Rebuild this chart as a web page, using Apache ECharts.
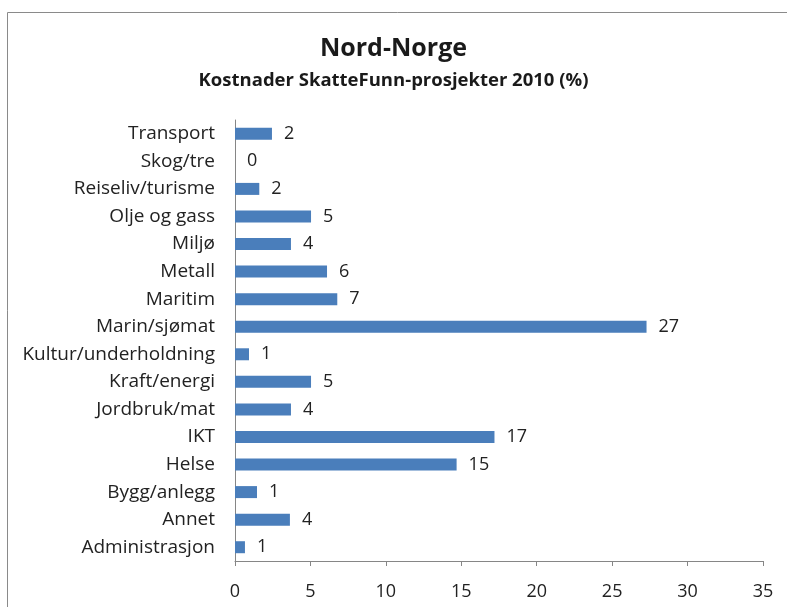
<!DOCTYPE html>
<html>
<head>
<meta charset="utf-8">
<script src="https://cdn.jsdelivr.net/npm/echarts@6/dist/echarts.min.js"></script>
<style>
  html, body { margin: 0; padding: 0; background: #fff; }
  #chart { width: 787px; height: 607px; }
</style>
</head>
<body>
<div id="chart"></div>
<script>
const titleText = 'Nord-Norge';
const subtitleText = 'Kostnader SkatteFunn-prosjekter 2010 (%)';
const categories = ['Administrasjon', 'Annet', 'Bygg/anlegg', 'Helse', 'IKT', 'Jordbruk/mat',
  'Kraft/energi', 'Kultur/underholdning', 'Marin/sjømat', 'Maritim', 'Metall', 'Miljø',
  'Olje og gass', 'Reiseliv/turisme', 'Skog/tre', 'Transport'];
const values = [0.66, 3.64, 1.46, 14.69, 17.2, 3.71, 5.04, 0.93, 27.28, 6.78, 6.1, 3.71, 5.04, 1.61, 0, 2.45];
const xTicks = [0, 5, 10, 15, 20, 25, 30, 35];

const font = '"Open Sans", "Noto Sans", sans-serif';
const chart = echarts.init(document.getElementById('chart'));
chart.setOption({
  backgroundColor: '#ffffff',
  animation: false,
  graphic: [{
    type: 'rect',
    shape: { x: 7.5, y: 12.5, width: 820, height: 640 },
    style: { fill: 'none', stroke: '#8a8a8a', lineWidth: 1 },
    silent: true
  }],
  title: [{
    text: titleText,
    left: 'center',
    top: 31,
    textStyle: { fontFamily: font, fontSize: 25, fontWeight: 'bold', color: '#1a1a1a' }
  }, {
    text: subtitleText,
    left: 'center',
    top: 66,
    textStyle: { fontFamily: font, fontSize: 18.5, fontWeight: 'bold', color: '#1a1a1a' }
  }],
  grid: { left: 235, right: 24, top: 120, bottom: 46, containLabel: false },
  xAxis: {
    type: 'value',
    min: xTicks[0],
    max: xTicks[xTicks.length - 1],
    interval: 5,
    splitLine: { show: false },
    axisLine: { show: true, lineStyle: { color: '#868686', width: 1 } },
    axisTick: { show: true, length: 5, lineStyle: { color: '#868686' } },
    axisLabel: { margin: 22, fontFamily: font, fontSize: 18, color: '#222' }
  },
  yAxis: {
    type: 'category',
    data: categories,
    axisLine: { show: true, lineStyle: { color: '#868686', width: 1 } },
    axisTick: { show: false },
    axisLabel: { margin: 20, fontFamily: font, fontSize: 19, color: '#222' }
  },
  series: [{
    type: 'bar',
    data: values,
    barWidth: 12,
    itemStyle: { color: '#4A7EBB' },
    label: {
      show: true,
      position: 'right',
      distance: 12,
      fontFamily: font,
      fontSize: 18,
      color: '#222',
      formatter: p => String(Math.round(p.value))
    }
  }]
});
</script>
</body>
</html>
